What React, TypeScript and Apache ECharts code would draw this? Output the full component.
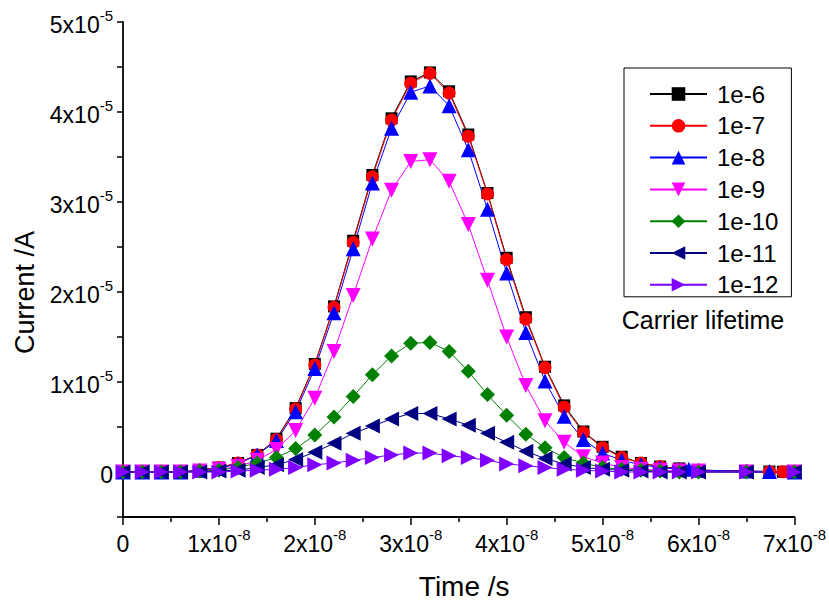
import React, { useEffect, useRef } from "react";
import * as echarts from "echarts";

// Time in units of 1e-8 s
const timeBase = [0, 0.2, 0.4, 0.6, 0.8, 1.0, 1.2, 1.4, 1.6, 1.8, 2.0, 2.2, 2.4, 2.6, 2.8, 3.0, 3.2, 3.4, 3.6, 3.8, 4.0, 4.2, 4.4, 4.6, 4.8, 5.0, 5.2, 5.4, 5.6, 5.8, 6.0, 6.5, 7.0];
const timeLong = [0, 0.2, 0.4, 0.6, 0.8, 1.0, 1.2, 1.4, 1.6, 1.8, 2.0, 2.2, 2.4, 2.6, 2.8, 3.0, 3.2, 3.4, 3.6, 3.8, 4.0, 4.2, 4.4, 4.6, 4.8, 5.0, 5.2, 5.4, 5.6, 5.8, 6.0, 6.5, 6.74, 6.88, 7.0];
const timeBlue = [0, 0.2, 0.4, 0.6, 0.8, 1.0, 1.2, 1.4, 1.6, 1.8, 2.0, 2.2, 2.4, 2.6, 2.8, 3.0, 3.2, 3.4, 3.6, 3.8, 4.0, 4.2, 4.4, 4.6, 4.8, 5.0, 5.2, 5.4, 5.6, 5.8, 5.9, 6.0, 6.5, 6.74, 7.0];

// Current in units of 1e-5 A
const current1e6 = [0, 0, 0, 0, 0.02, 0.05, 0.10, 0.19, 0.37, 0.71, 1.20, 1.84, 2.57, 3.30, 3.93, 4.34, 4.44, 4.23, 3.75, 3.10, 2.38, 1.72, 1.17, 0.74, 0.45, 0.28, 0.17, 0.10, 0.06, 0.04, 0.02, 0.01, 0.005, 0.003, 0];
const current1e7 = [0, 0, 0, 0, 0.02, 0.05, 0.10, 0.19, 0.36, 0.70, 1.19, 1.83, 2.55, 3.28, 3.91, 4.32, 4.43, 4.21, 3.73, 3.09, 2.36, 1.70, 1.16, 0.72, 0.44, 0.27, 0.16, 0.10, 0.06, 0.03, 0.02, 0.01, 0.005, 0.003, 0];
const current1e8 = [0, 0, 0, 0, 0.02, 0.04, 0.09, 0.19, 0.35, 0.67, 1.15, 1.77, 2.48, 3.21, 3.82, 4.22, 4.29, 4.07, 3.58, 2.92, 2.21, 1.55, 1.01, 0.62, 0.36, 0.21, 0.13, 0.08, 0.05, 0.03, 0.03, 0.02, 0.01, 0.005, 0];
const current1e9 = [0, 0, 0, 0, 0.01, 0.03, 0.06, 0.13, 0.25, 0.46, 0.82, 1.34, 1.96, 2.59, 3.13, 3.45, 3.47, 3.23, 2.75, 2.13, 1.50, 0.96, 0.57, 0.33, 0.17, 0.10, 0.05, 0.03, 0.02, 0.01, 0.01, 0, 0];
const current1e10 = [0, 0, 0, 0, 0.01, 0.02, 0.05, 0.10, 0.16, 0.26, 0.41, 0.61, 0.84, 1.08, 1.29, 1.43, 1.44, 1.34, 1.12, 0.86, 0.63, 0.42, 0.27, 0.16, 0.10, 0.05, 0.03, 0.02, 0.01, 0, 0, 0, 0];
const current1e11 = [0, 0, 0, 0, 0, 0.01, 0.02, 0.05, 0.08, 0.14, 0.22, 0.32, 0.43, 0.51, 0.59, 0.65, 0.65, 0.59, 0.52, 0.43, 0.33, 0.23, 0.15, 0.09, 0.05, 0.03, 0.02, 0.01, 0, 0, 0, 0, 0];
const current1e12 = [0, 0, 0, 0, 0, 0, 0.01, 0.02, 0.03, 0.05, 0.08, 0.10, 0.13, 0.16, 0.19, 0.21, 0.21, 0.18, 0.16, 0.13, 0.09, 0.07, 0.05, 0.03, 0.02, 0.01, 0, 0, 0, 0, 0, 0, 0];

const seriesNames = ["1e-6", "1e-7", "1e-8", "1e-9", "1e-10", "1e-11", "1e-12"];
const xTickExponent = "-8";
const yTickExponent = "-5";

const FONT = "'Liberation Sans', Arial, sans-serif";

const seriesDefs = [
  { name: seriesNames[0], t: timeLong, v: current1e6, color: "#000000", symbol: "rect", size: 12, rotate: 0 },
  { name: seriesNames[1], t: timeLong, v: current1e7, color: "#ff0000", symbol: "circle", size: 13, rotate: 0 },
  { name: seriesNames[2], t: timeBlue, v: current1e8, color: "#0000ff", symbol: "triangle", size: 15, rotate: 0 },
  { name: seriesNames[3], t: timeBase, v: current1e9, color: "#ff00ff", symbol: "triangle", size: 15, rotate: 180 },
  { name: seriesNames[4], t: timeBase, v: current1e10, color: "#008000", symbol: "diamond", size: 15, rotate: 0 },
  { name: seriesNames[5], t: timeBase, v: current1e11, color: "#000080", symbol: "triangle", size: 15, rotate: 90 },
  { name: seriesNames[6], t: timeBase, v: current1e12, color: "#8000ff", symbol: "triangle", size: 15, rotate: -90 },
];

const supRich = {
  n: { fontSize: 23, fontFamily: FONT, color: "#000", lineHeight: 28, verticalAlign: "bottom" },
  s: { fontSize: 15, fontFamily: FONT, color: "#000", lineHeight: 28, verticalAlign: "top" },
};

export default function App() {
  const ref = useRef<HTMLDivElement>(null);
  useEffect(() => {
    if (!ref.current) return;
    const chart = echarts.init(ref.current, null, { renderer: "svg" });
    chart.setOption({
      animation: false,
      backgroundColor: "#ffffff",
      textStyle: { fontFamily: FONT },
      grid: { left: 123, right: 29, top: 22, bottom: 80, containLabel: false },
      xAxis: {
        type: "value",
        min: 0,
        max: 7,
        interval: 1,
        name: "Time /s",
        nameLocation: "middle",
        nameGap: 55,
        nameTextStyle: { fontSize: 28, color: "#000", fontFamily: FONT, padding: [0, 0, 0, 11] },
        axisLine: { onZero: false, lineStyle: { color: "#000", width: 1.8 } },
        axisTick: { show: true, inside: false, length: 8, lineStyle: { color: "#000", width: 1.5 } },
        minorTick: { show: true, splitNumber: 2, length: 5, lineStyle: { color: "#000", width: 1.5 } },
        splitLine: { show: false },
        axisLabel: {
          margin: 10,
          formatter: (v: number) => (Math.abs(v) < 1e-9 ? "{n|0}" : `{n|${Math.round(v)}x10}{s|${xTickExponent}}`),
          rich: supRich,
        },
      },
      yAxis: {
        type: "value",
        min: -0.5,
        max: 5,
        interval: 0.5,
        name: "Current /A",
        nameLocation: "middle",
        nameGap: 85,
        nameTextStyle: { fontSize: 27, color: "#000", fontFamily: FONT, padding: [0, 46, 0, 0] },
        axisLine: { onZero: false, lineStyle: { color: "#000", width: 1.8 } },
        axisTick: { show: true, inside: false, length: 6, lineStyle: { color: "#000", width: 1.5 } },
        splitLine: { show: false },
        axisLabel: {
          margin: 10,
          formatter: (v: number) => {
            const r = Math.round(v);
            if (Math.abs(v - r) > 1e-6) return "";
            if (r === 0) return "{n|0}";
            return `{n|${r}x10}{s|${yTickExponent}}`;
          },
          rich: supRich,
        },
      },
      legend: {
        orient: "vertical",
        left: 624,
        top: 68,
        padding: [14, 13, 0, 25],
        itemWidth: 57,
        itemHeight: 17,
        itemGap: 7.8,
        borderColor: "#000",
        borderWidth: 1,
        textStyle: { fontSize: 24, color: "#000", fontFamily: FONT, lineHeight: 24, padding: [0, 0, 0, 5] },
        data: seriesNames,
      },
      graphic: [
        {
          type: "text",
          x: 703,
          y: 320,
          style: { text: "Carrier lifetime", fontSize: 25, fontFamily: FONT, fill: "#000", align: "center", verticalAlign: "middle" },
        },
      ],
      series: seriesDefs.map((d) => ({
        name: d.name,
        type: "line",
        data: d.t.map((t, i) => [t, d.v[i]]),
        symbol: d.symbol,
        symbolSize: d.size,
        symbolRotate: d.rotate,
        showAllSymbol: true,
        lineStyle: { color: d.color, width: 1 },
        itemStyle: { color: d.color },
        emphasis: { disabled: true },
      })),
    });
    return () => chart.dispose();
  }, []);
  return <div ref={ref} style={{ position: "fixed", left: 0, top: 0, width: 829, height: 605 }} />;
}
